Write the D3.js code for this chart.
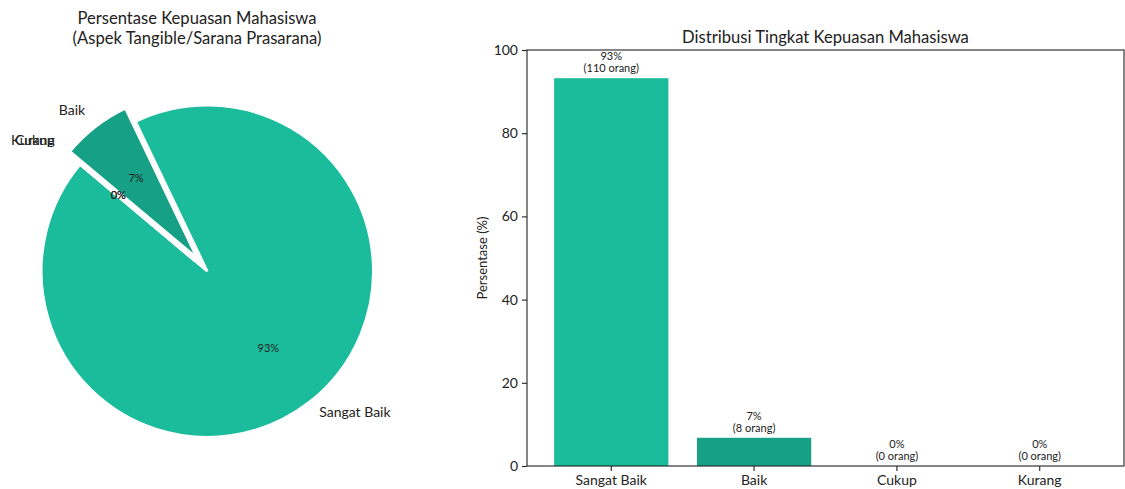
<!DOCTYPE html>
<html>
<head>
<meta charset="utf-8">
<script src="https://cdn.jsdelivr.net/npm/d3@7"></script>
<style>
  html, body { margin: 0; padding: 0; background: #fff; }
  svg { display: block; }
  text { font-family: "Lato", "Open Sans", sans-serif; fill: #222; }
</style>
</head>
<body>
<svg id="chart" width="1125" height="489"></svg>
<script>
// Survey results: student satisfaction, tangible aspect (facilities)
const categories = ["Sangat Baik", "Baik", "Cukup", "Kurang"];
const counts = [110, 8, 0, 0];
const colors = ["#1abc9c", "#16a085", "#f39c12", "#e74c3c"];
const explode = [0, 0.1, 0.1, 0.1];
const yTicks = [0, 20, 40, 60, 80, 100];

const total = d3.sum(counts);
const percents = counts.map(c => c / total * 100);
const fmtPct = v => d3.format(".0f")(v) + "%";

const svg = d3.select("#chart");

// ---------- Pie chart ----------
const pieCx = 207.3, pieCy = 271.2, R = 166;
const deg = Math.PI / 180;
// counter-clockwise wedges starting at 140° (measured from the +x axis)
const start = (90 - 140) * deg;
const pie = d3.pie().sort(null).value(d => d)
  .startAngle(start).endAngle(start - 2 * Math.PI);
const arcs = pie(counts);
const arc = d3.arc().innerRadius(0).outerRadius(R);

const pieG = svg.append("g").attr("transform", `translate(${pieCx},${pieCy})`);

const slices = arcs.map((a, i) => {
  const mid = (a.startAngle + a.endAngle) / 2;
  const dx = Math.sin(mid), dy = -Math.cos(mid);
  const off = explode[i] * R;
  return { a, i, mid, dx, dy, ox: dx * off, oy: dy * off };
});

pieG.selectAll("path.slice").data(slices).join("path")
  .attr("class", "slice")
  .attr("transform", d => `translate(${d.ox},${d.oy})`)
  .attr("d", d => arc(d.a))
  .attr("fill", d => colors[d.i])
  .attr("stroke", "#fff")
  .attr("stroke-width", 2.6)
  .attr("stroke-linejoin", "miter");

pieG.selectAll("text.plabel").data(slices).join("text")
  .attr("class", "plabel")
  .attr("x", d => d.ox + d.dx * R * 1.1)
  .attr("y", d => d.oy + d.dy * R * 1.1 - 4)
  .attr("text-anchor", d => d.dx > 0 ? "start" : "end")
  .attr("dominant-baseline", "central")
  .attr("font-size", 14)
  .text(d => categories[d.i]);

pieG.selectAll("text.ppct").data(slices).join("text")
  .attr("class", "ppct")
  .attr("x", d => d.ox + d.dx * R * 0.6)
  .attr("y", d => d.oy + d.dy * R * 0.6 - 2)
  .attr("text-anchor", "middle")
  .attr("dominant-baseline", "central")
  .attr("font-size", 11)
  .text(d => fmtPct(percents[d.i]));

svg.append("text")
  .attr("x", 197).attr("y", 24)
  .attr("text-anchor", "middle").attr("font-size", 16.6)
  .text("Persentase Kepuasan Mahasiswa");
svg.append("text")
  .attr("x", 197).attr("y", 44)
  .attr("text-anchor", "middle").attr("font-size", 16.6)
  .text("(Aspek Tangible/Sarana Prasarana)");

// ---------- Bar chart ----------
const ax = { left: 527, right: 1124, top: 50, bottom: 466 };
const x = d3.scaleBand().domain(categories)
  .range([ax.left, ax.right]).paddingInner(0.2).paddingOuter(0.19);
const y = d3.scaleLinear().domain([0, 100]).range([ax.bottom, ax.top]);

const barG = svg.append("g");
barG.selectAll("rect").data(categories).join("rect")
  .attr("x", d => x(d))
  .attr("width", x.bandwidth())
  .attr("y", (d, i) => y(percents[i]))
  .attr("height", (d, i) => y(0) - y(percents[i]))
  .attr("fill", (d, i) => colors[i]);

const lbl = barG.selectAll("text.blabel").data(categories).join("text")
  .attr("class", "blabel")
  .attr("text-anchor", "middle")
  .attr("font-size", 11);
lbl.append("tspan")
  .attr("x", d => x(d) + x.bandwidth() / 2)
  .attr("y", (d, i) => y(percents[i]) - 18)
  .text((d, i) => fmtPct(percents[i]));
lbl.append("tspan")
  .attr("x", d => x(d) + x.bandwidth() / 2)
  .attr("y", (d, i) => y(percents[i]) - 6)
  .text((d, i) => `(${counts[i]} orang)`);

// axes
const yAxis = svg.append("g")
  .attr("transform", `translate(${ax.left},0)`)
  .call(d3.axisLeft(y).tickValues(yTicks).tickSize(5).tickPadding(4));
const xAxis = svg.append("g")
  .attr("transform", `translate(0,${ax.bottom})`)
  .call(d3.axisBottom(x).tickSize(5).tickPadding(4));
[yAxis, xAxis].forEach(g => {
  g.select(".domain").remove();
  g.selectAll("line").attr("stroke", "#222").attr("stroke-width", 1.1);
  g.selectAll("text").attr("font-size", 14).attr("fill", "#222");
  g.attr("font-family", null);
});

// frame
svg.append("rect")
  .attr("x", ax.left).attr("y", ax.top)
  .attr("width", ax.right - ax.left).attr("height", ax.bottom - ax.top)
  .attr("fill", "none").attr("stroke", "#222").attr("stroke-width", 1.1);

svg.append("text")
  .attr("transform", `translate(487,${(ax.top + ax.bottom) / 2}) rotate(-90)`)
  .attr("text-anchor", "middle").attr("font-size", 13)
  .text("Persentase (%)");

svg.append("text")
  .attr("x", (ax.left + ax.right) / 2).attr("y", 43)
  .attr("text-anchor", "middle").attr("font-size", 16.6)
  .text("Distribusi Tingkat Kepuasan Mahasiswa");
</script>
</body>
</html>
